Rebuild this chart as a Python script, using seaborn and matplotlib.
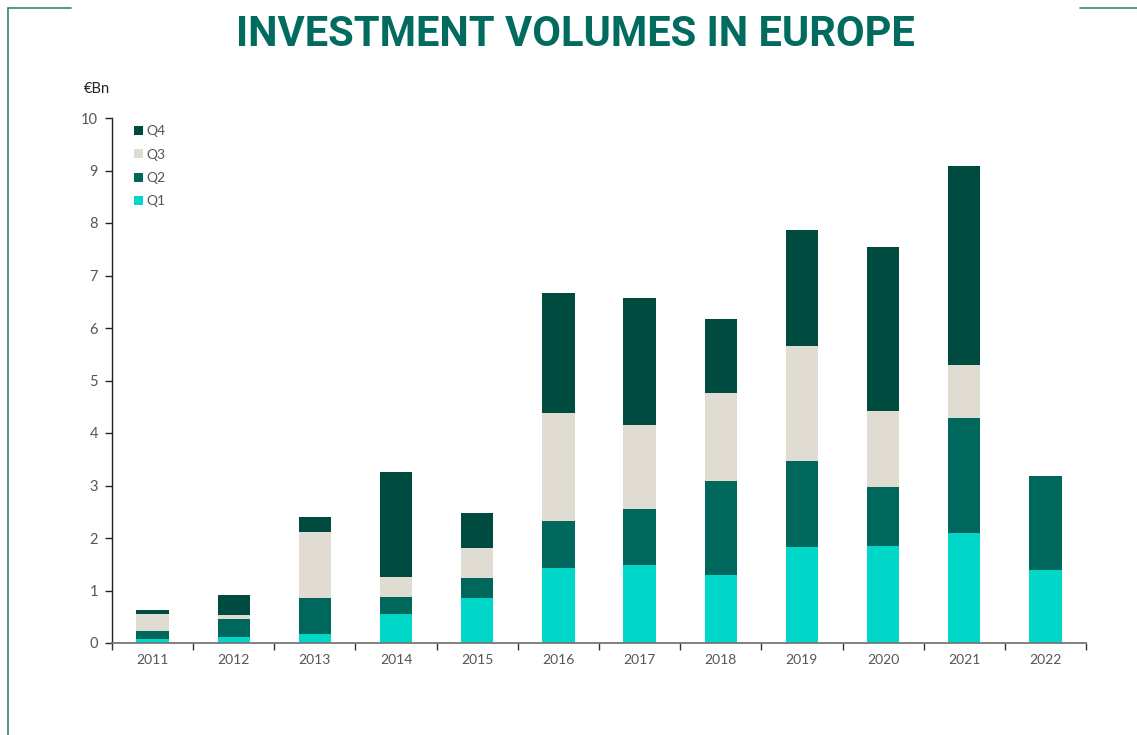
import matplotlib
matplotlib.use("Agg")
import matplotlib.pyplot as plt
import seaborn as sns
import numpy as np
import pandas as pd
from matplotlib.patches import Patch
from matplotlib.lines import Line2D

years = ["2011", "2012", "2013", "2014", "2015", "2016", "2017", "2018", "2019", "2020", "2021", "2022"]
q1 = [0.08, 0.12, 0.17, 0.55, 0.85, 1.43, 1.48, 1.30, 1.83, 1.85, 2.09, 1.39]
q2 = [0.14, 0.34, 0.68, 0.32, 0.39, 0.90, 1.07, 1.78, 1.63, 1.13, 2.20, 1.80]
q3 = [0.33, 0.07, 1.27, 0.38, 0.57, 2.06, 1.61, 1.68, 2.19, 1.44, 1.00, 0.0]
q4 = [0.08, 0.38, 0.28, 2.01, 0.67, 2.27, 2.41, 1.42, 2.22, 3.13, 3.80, 0.0]
quarters = ["Q1", "Q2", "Q3", "Q4"]
colors = {"Q1": "#00D7C8", "Q2": "#00675C", "Q3": "#E0DCD2", "Q4": "#004B40"}

sns.set_theme(style="white")
plt.rcParams['font.family'] = ['Lato', 'DejaVu Sans']

df = pd.DataFrame({"year": years, "Q1": q1, "Q2": q2, "Q3": q3, "Q4": q4})
cum = df[quarters].cumsum(axis=1)

fig = plt.figure(figsize=(11.37, 7.35), dpi=100)
ax = fig.add_axes([112/1137, 92/735, 974/1137, 525/735])

for q in reversed(quarters):
    vals = cum[q].where(df[q] > 0, np.nan)
    sns.barplot(x=df["year"], y=vals, color=colors[q], width=0.4, ax=ax,
                saturation=1, linewidth=0, label=q)

ax.set_xlim(-0.5, 11.5)
ax.set_ylim(0, 10)
ax.set_yticks(range(0, 11))
ax.set_xlabel("")
ax.set_ylabel("")
ax.set_xticks(np.arange(-0.5, 12, 1), minor=False)
ax.set_xticklabels([])
ax.set_xticks(np.arange(0, 12), minor=True)
ax.set_xticklabels(years, minor=True)
ax.tick_params(axis="x", which="major", direction="out", length=5, width=1, color="#333333", bottom=True)
ax.tick_params(axis="x", which="minor", length=0, labelsize=10, labelcolor="#555555", pad=8)
ax.tick_params(axis="y", direction="out", length=5, width=1, color="#222222", left=True,
               labelsize=10.5, labelcolor="#555555", pad=5)
for s in ["top", "right"]:
    ax.spines[s].set_visible(False)
ax.spines["left"].set_color("#222222")
ax.spines["left"].set_linewidth(1)
ax.spines["bottom"].set_color("#777777")
ax.spines["bottom"].set_linewidth(1.3)

handles = [Patch(facecolor=colors[q], edgecolor="none") for q in ["Q4", "Q3", "Q2", "Q1"]]
leg = ax.legend(handles, ["Q4", "Q3", "Q2", "Q1"], loc="upper left", bbox_to_anchor=(0.01, 1.01),
                frameon=False, fontsize=10, handlelength=0.65, handleheight=0.65,
                handletextpad=0.25, labelspacing=0.82, labelcolor="#555555")

fig.text(84/1137, 1 - 89/735, "€Bn", fontsize=10.5, color="#222222", va="center", ha="left")
fig.text(575/1137, 1 - 34/735, "INVESTMENT VOLUMES IN EUROPE", fontsize=30, fontweight="bold",
         color="#006B5E", ha="center", va="center", family=["Roboto", "DejaVu Sans"])

line_c = "#2A8A7A"
fig.add_artist(Line2D([8/1137, 71/1137], [1 - 8/735, 1 - 8/735], color=line_c, lw=1.2))
fig.add_artist(Line2D([8/1137, 8/1137], [1 - 8/735, 0], color=line_c, lw=1.2))
fig.add_artist(Line2D([1080/1137, 1137/1137], [1 - 8/735, 1 - 8/735], color=line_c, lw=1.2))

fig.savefig("out.png", dpi=100)
